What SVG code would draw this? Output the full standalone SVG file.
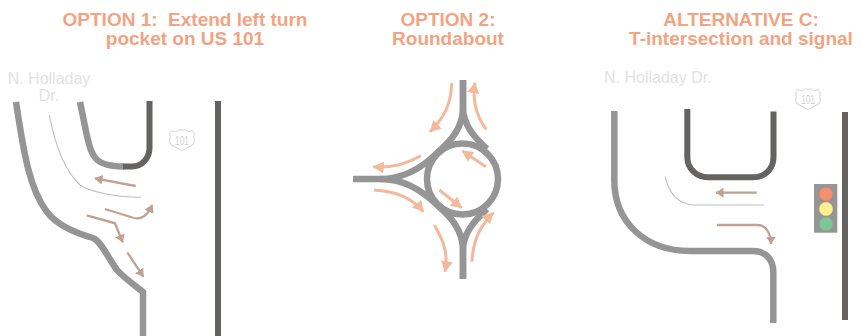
<svg xmlns="http://www.w3.org/2000/svg" width="862" height="336" viewBox="0 0 862 336">
<defs>
<marker id="tan" viewBox="0 0 8 10" refX="7.500" refY="5" markerWidth="8" markerHeight="10" markerUnits="userSpaceOnUse" orient="auto"><path d="M0 0L8 5L0 10Z" fill="#bfa28f"/></marker>
<marker id="pk" viewBox="0 0 11 12" refX="10.500" refY="6" markerWidth="11" markerHeight="12" markerUnits="userSpaceOnUse" orient="auto"><path d="M0 0L11 6L0 12Z" fill="#f4b89a"/></marker>
<g id="shield"><path d="M-10 -9.500C-8 -8 -5 -8 -3 -10.500C-1 -9.500 1 -9.500 3 -10.500C5 -8 8 -8 10 -9.500L12.500 -6C11 -3 12 -1 12.500 1C12.500 6 6 7 0 10.500C-6 7 -12.500 6 -12.500 1C-12 -1 -11 -3 -12.500 -6Z" fill="#fff" stroke="#dcdcdc" stroke-width="1.200"/><text class="sh" x="0" y="4.500" text-anchor="middle" textLength="14" lengthAdjust="spacingAndGlyphs">101</text></g>
</defs>
<style>
text{font-family:"Liberation Sans",Arial,sans-serif}
.t{font-size:19px;font-weight:700;fill:#f2a482;text-anchor:middle;white-space:pre}
.n{font-size:16px;fill:#e2e2e2}
.sh{font-size:12px;fill:#d2d2d2}
.r{fill:none;stroke:#959595;stroke-width:6.500}
.d{fill:none;stroke:#646361;stroke-width:6}
.c{fill:none;stroke:#bdbdbd;stroke-width:1.100}
.a{fill:none;stroke:#bfa28f;stroke-width:2.300;marker-end:url(#tan)}
.p{fill:none;stroke:#f4b89a;stroke-width:3;marker-end:url(#pk)}
.rb{fill:none;stroke:#959595;stroke-width:6.500}
</style>
<g id="titles">
<text class="t" x="185" y="26" xml:space="preserve">OPTION 1:  Extend left turn</text><text class="t" x="185" y="45">pocket on US 101</text>
<text class="t" x="448" y="26">OPTION 2:</text><text class="t" x="448" y="45">Roundabout</text>
<text class="t" x="741" y="26">ALTERNATIVE C:</text><text class="t" x="741" y="45">T-intersection and signal</text>
</g>
<g id="option1">
<text class="n" x="49" y="83.500" text-anchor="middle">N. Holladay</text><text class="n" x="49" y="101" text-anchor="middle">Dr.</text>
<use href="#shield" x="182" y="140"/>
<path class="r" d="M16 102C24 155 30 190 47 212C56 224 72 232 93 238C101 241 108 258 117 270C122 276 133 284 143 292V336"/>
<path class="r" d="M80 102C86 130 88 147 94 156C98 163 108 166.500 124 166.500"/>
<path class="d" d="M123 166.500H132C142 166.500 149.500 158 149.500 148V101"/>
<path class="d" d="M218 101V336"/>
<path class="c" d="M49.300 115C56 150 66 172 80 185C90 192 116 197.300 141 197.300"/>
<path class="a" d="M135.700 186L95 178.300"/>
<path class="a" d="M105 209L134 218C143 220 148 214 152.300 205"/>
<path class="a" d="M86.700 215.300L115 223.300L122.700 242.300"/>
<path class="a" d="M127.300 252.300L143.300 276.700"/>
</g>
<g id="option2">
<circle class="rb" cx="462.500" cy="179" r="35.500"/>
<path class="rb" d="M463 80V108C463 128 450 142 437 153C425 165 405 179 380 179H353"/>
<path class="rb" d="M463 80V108C463 125 475 138 487 149"/>
<path class="rb" d="M463 279V250C463 230 450 216 437 205C425 193 405 179 380 179"/>
<path class="rb" d="M463 279V250C463 233 475 220 487 209"/>
<path class="p" d="M451.700 83C451 105 444 118 430 131.700"/>
<path class="p" d="M486 129.300C476 115 472 100 475 82.700"/>
<path class="p" d="M420.700 155.700C405 165 390 168 373.300 166.700"/>
<path class="p" d="M374 190C395 191 412 198 423.300 211.700"/>
<path class="p" d="M434.300 225C445 243 448 255 445 271.700"/>
<path class="p" d="M472 261.700C473 240 480 226 493.300 212.700"/>
<path class="p" d="M486 166.700L462.300 151"/>
<path class="p" d="M439.300 190L461.700 207.700"/>
</g>
<g id="alternative">
<text class="n" x="604" y="83">N. Holladay Dr.</text>
<use href="#shield" x="808" y="99"/>
<path class="r" d="M614.300 111V180C614.300 222 645 251 690 251H753C766 251 773.300 260 773.300 272V323"/>
<path class="d" d="M687.300 109V157C687.300 169 697 177.300 708 177.300H753C765 177.300 773.500 169 773.500 157V111.500"/>
<path class="d" d="M845 112V320"/>
<path class="c" d="M665.300 176.700C668 192 678 205 695 205H764"/>
<path class="a" d="M756.700 192.700H716"/>
<path class="a" d="M717 225H758C766 225 771 234 771 244"/>
<rect x="814" y="184" width="23.300" height="48.700" fill="#959595"/>
<circle cx="826" cy="194" r="6.700" fill="#f58f6e" stroke="#e58060" stroke-width="0.500"/>
<circle cx="826" cy="209" r="6.700" fill="#fcf18e" stroke="#e6dc80" stroke-width="0.500"/>
<circle cx="826" cy="224" r="6.700" fill="#80c595" stroke="#70b585" stroke-width="0.500"/>
</g>
</svg>
